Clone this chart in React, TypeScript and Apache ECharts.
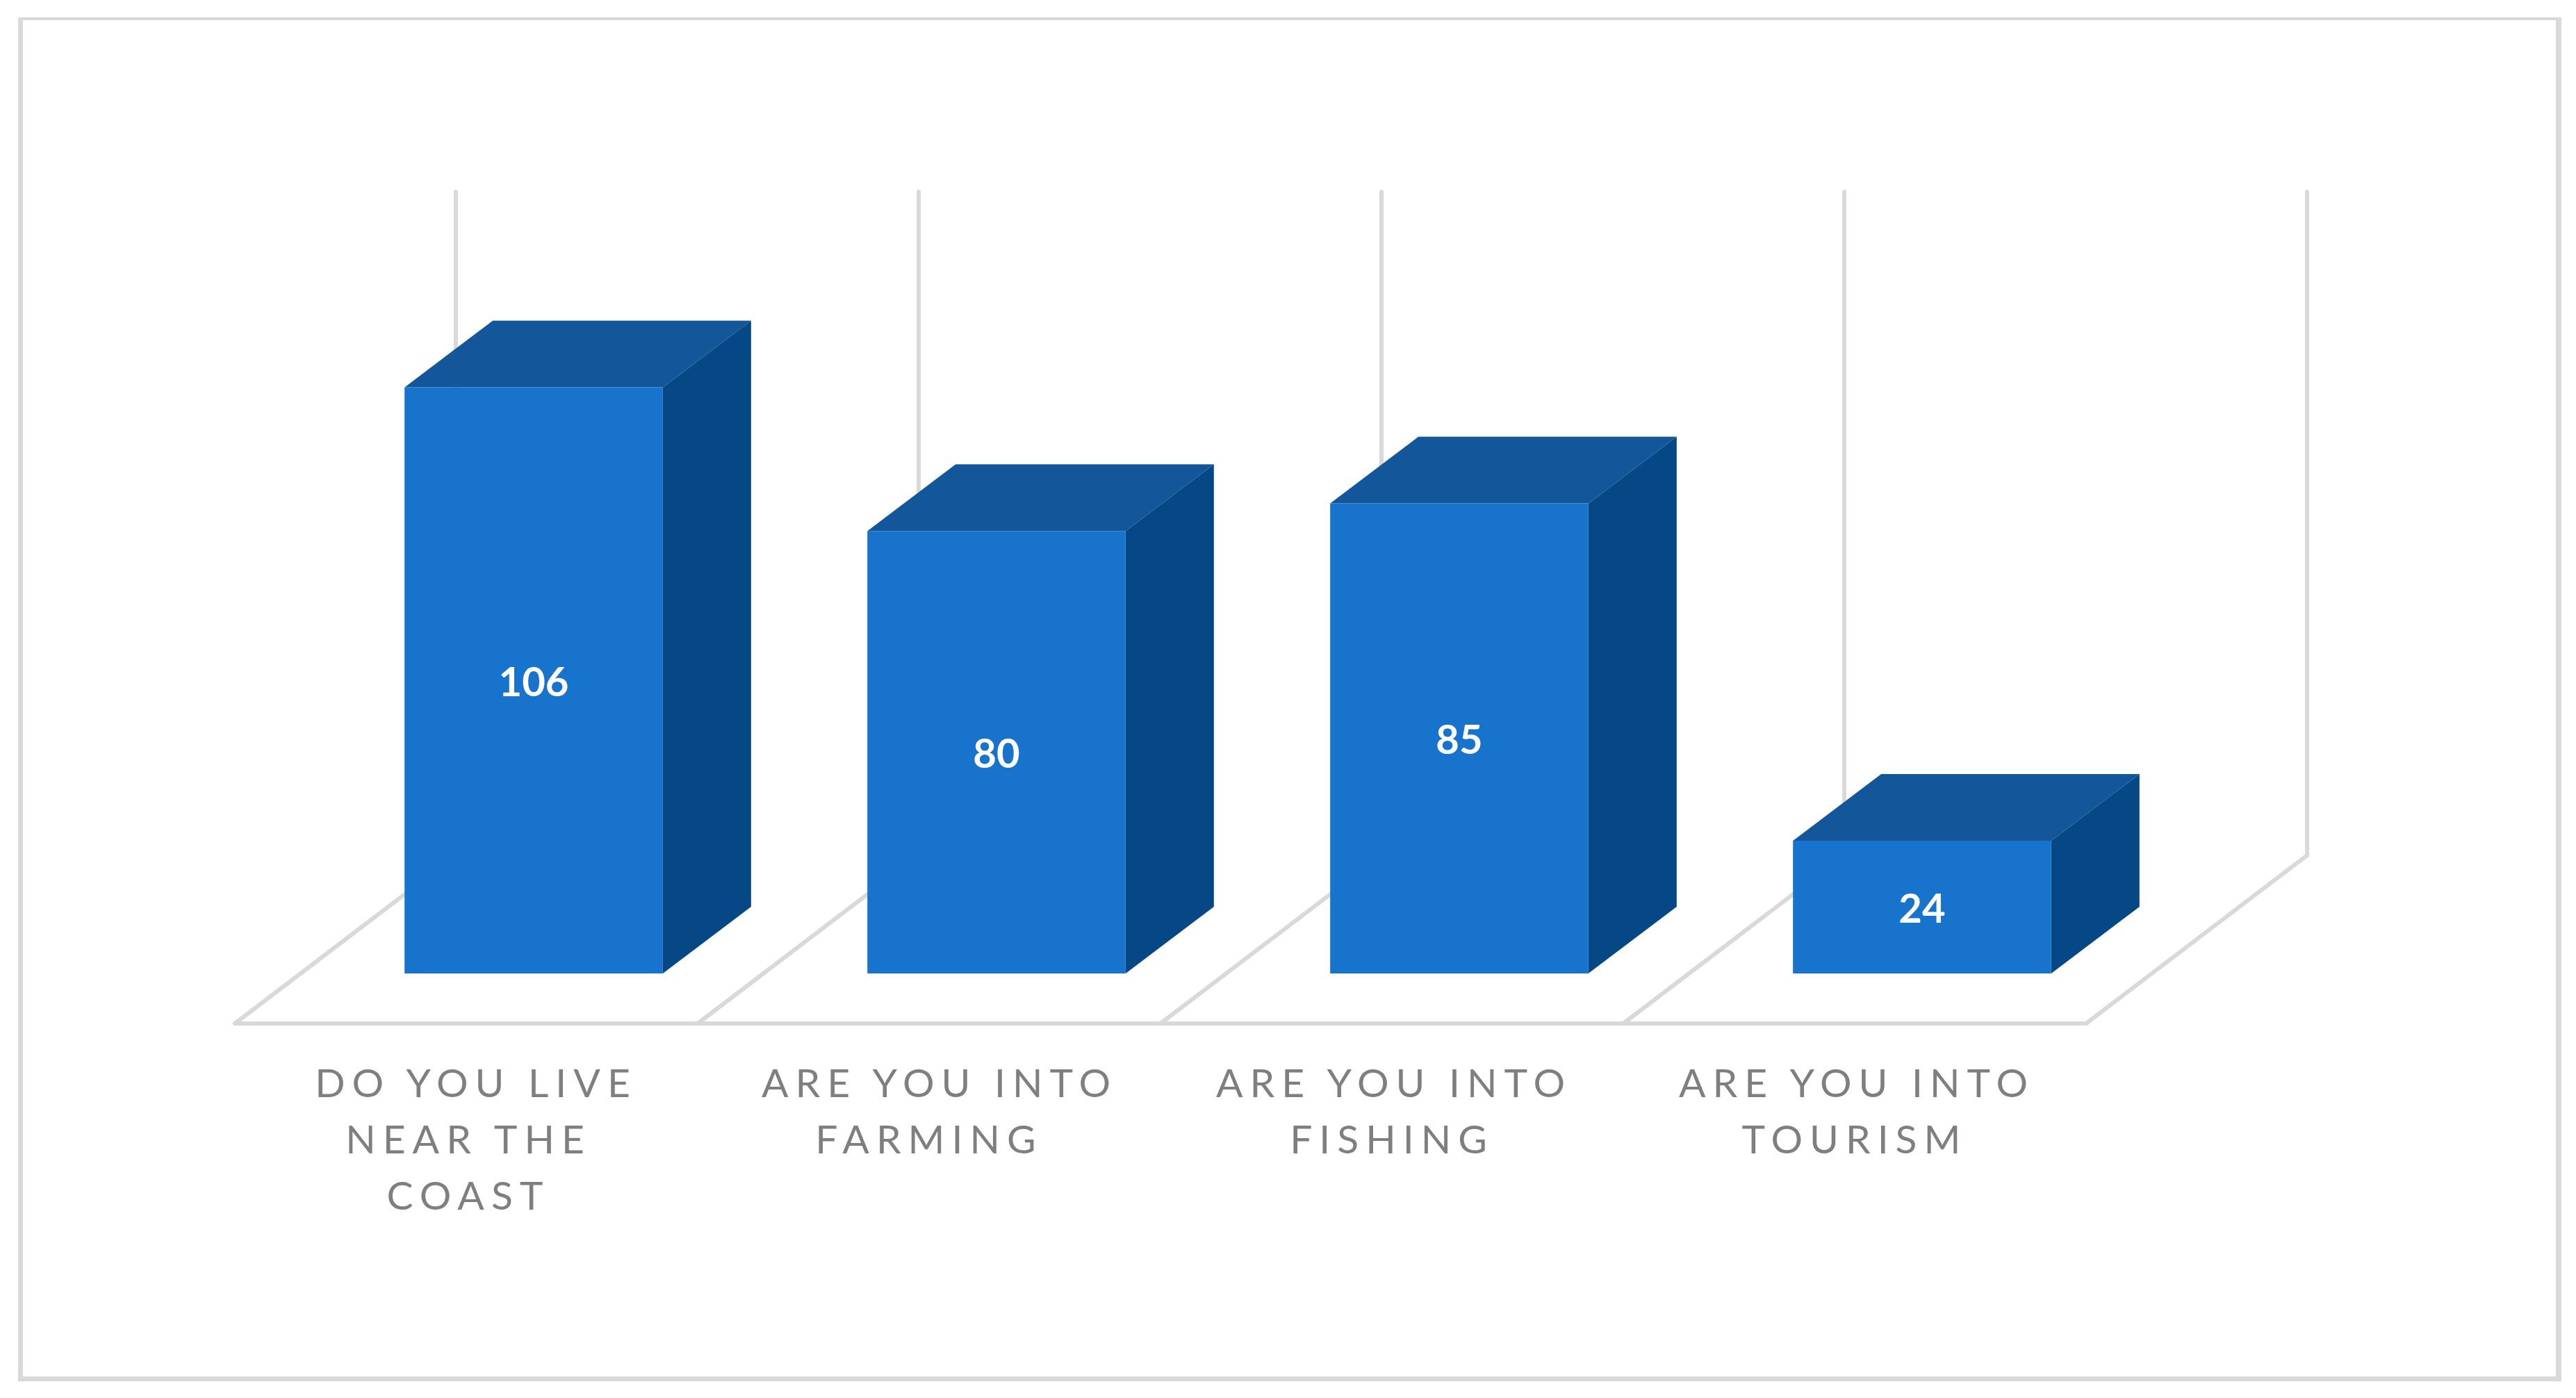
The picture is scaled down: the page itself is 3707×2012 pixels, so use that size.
import React, { useEffect, useRef } from "react";
import * as echarts from "echarts";

const categories = [
  "DO YOU LIVE\nNEAR THE\nCOAST",
  "ARE YOU INTO\nFARMING",
  "ARE YOU INTO\nFISHING",
  "ARE YOU INTO\nTOURISM",
];
const responses = [106, 80, 85, 24];
const axisMax = 120;

const GRID_LINE = "#D9D9D9";
const FRONT = "#1873CC";
const TOP = "#13569A";
const SIDE = "#064785";
const LABEL_GREY = "#7F7F7F";

const FLOOR_DX = 318;
const FLOOR_DY = 242;
const BAR_INSET_DX = 97;
const BAR_INSET_DY = 72;
const BAR_DEPTH_DX = 127;
const BAR_DEPTH_DY = 96;
const BAR_RATIO = 0.558;

function renderWalls(params: any, api: any) {
  const i = api.value(0);
  const band = api.size([1, 0])[0];
  const [cx, y0] = api.coord([i, 0]);
  const [, yTop] = api.coord([i, axisMax]);
  const lineStyle = { stroke: GRID_LINE, lineWidth: 6, lineCap: "round" };
  const edge = (x: number) => [
    { type: "line", shape: { x1: x, y1: y0, x2: x + FLOOR_DX, y2: y0 - FLOOR_DY }, style: lineStyle },
    { type: "line", shape: { x1: x + FLOOR_DX, y1: y0 - FLOOR_DY, x2: x + FLOOR_DX, y2: yTop - FLOOR_DY }, style: lineStyle },
  ];
  const children: any[] = edge(cx - band / 2);
  if (i === categories.length - 1) children.push(...edge(cx + band / 2));
  return { type: "group", children };
}

function renderBar(params: any, api: any) {
  const i = api.value(0);
  const v = api.value(1);
  const band = api.size([1, 0])[0];
  const w = band * BAR_RATIO;
  const [cx, yBase] = api.coord([i, 0]);
  const [, yVal] = api.coord([i, v]);
  const l = cx + BAR_INSET_DX - w / 2;
  const r = l + w;
  const b = yBase - BAR_INSET_DY;
  const t = yVal - BAR_INSET_DY;
  const dx = BAR_DEPTH_DX;
  const dy = BAR_DEPTH_DY;
  return {
    type: "group",
    children: [
      {
        type: "polygon",
        shape: { points: [[r, t], [r + dx, t - dy], [r + dx, b - dy], [r, b]] },
        style: { fill: SIDE },
      },
      {
        type: "polygon",
        shape: { points: [[l, t], [l + dx, t - dy], [r + dx, t - dy], [r, t]] },
        style: { fill: TOP },
      },
      { type: "rect", shape: { x: l, y: t, width: w, height: b - t }, style: { fill: FRONT } },
      {
        type: "text",
        x: (l + r) / 2,
        y: (t + b) / 2,
        style: {
          text: String(v),
          fill: "#FFFFFF",
          font: "bold 58px Lato",
          align: "center",
          verticalAlign: "middle",
        },
      },
    ],
  };
}

export default function App() {
  const ref = useRef<HTMLDivElement>(null);

  useEffect(() => {
    document.body.style.margin = "0";
    const el = ref.current!;
    const chart = echarts.init(el, undefined, { renderer: "svg" });
    const spaceLabels = () => {
      let intoSeen = 0;
      el.querySelectorAll("text").forEach((t) => {
        const s = t.textContent || "";
        if (!/[A-Z]/.test(s)) return;
        (t as SVGTextElement).style.letterSpacing = "10px";
        let dx = 3;
        if (s === "DO YOU LIVE") dx = 14;
        else if (s === "ARE YOU INTO") dx = [15, 3, 3][intoSeen++] ?? 3;
        else if (s === "FARMING" || s === "FISHING" || s === "TOURISM") dx = 0;
        t.setAttribute("dx", String(dx));
      });
    };
    chart.on("rendered", spaceLabels);
    chart.setOption({
      animation: false,
      backgroundColor: "#FFFFFF",
      grid: { left: 338, top: 518, width: 2664, height: 955 },
      xAxis: {
        type: "category",
        data: categories,
        axisTick: { show: false },
        axisLine: { show: true, lineStyle: { color: GRID_LINE, width: 6 } },
        axisLabel: {
          interval: 0,
          margin: 43,
          color: LABEL_GREY,
          fontFamily: "Lato",
          fontSize: 57,
          fontWeight: 400,
          lineHeight: 81,
          align: "center",
          verticalAlign: "top",
        },
      },
      yAxis: { type: "value", min: 0, max: axisMax, show: false, splitLine: { show: false } },
      graphic: [
        { type: "rect", silent: true, shape: { x: 26, y: 25, width: 3660, height: 4 }, style: { fill: GRID_LINE } },
        { type: "rect", silent: true, shape: { x: 26, y: 1981, width: 3660, height: 7 }, style: { fill: GRID_LINE } },
        { type: "rect", silent: true, shape: { x: 26, y: 25, width: 7, height: 1963 }, style: { fill: GRID_LINE } },
        { type: "rect", silent: true, shape: { x: 3678, y: 25, width: 8, height: 1963 }, style: { fill: GRID_LINE } },
      ],
      series: [
        {
          type: "custom",
          name: "walls",
          silent: true,
          z: 1,
          renderItem: renderWalls,
          encode: { x: 0, y: 1 },
          data: categories.map((_, i) => [i, 0]),
        },
        {
          type: "custom",
          name: "Responses",
          z: 2,
          renderItem: renderBar,
          encode: { x: 0, y: 1 },
          data: responses.map((v, i) => [i, v]),
        },
      ],
    });
    spaceLabels();
    return () => chart.dispose();
  }, []);

  return <div ref={ref} style={{ width: 3707, height: 2012 }} />;
}
